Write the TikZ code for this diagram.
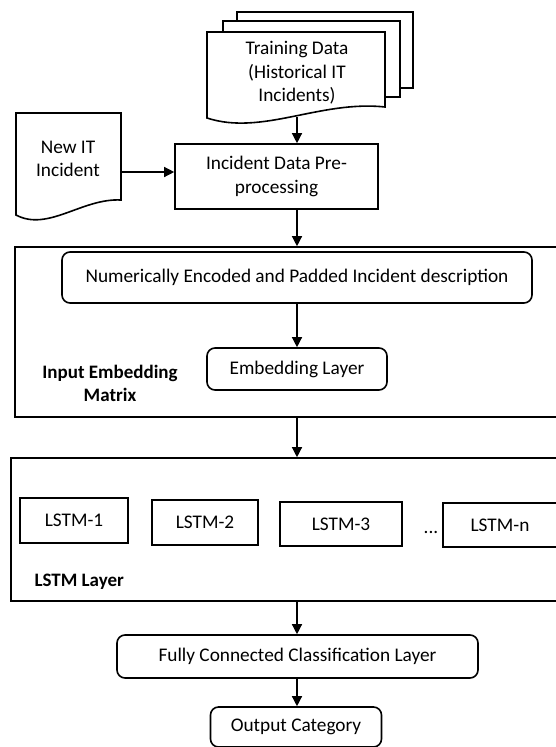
\documentclass[tikz,border=0pt]{standalone}
\usepackage{fontspec}
\setmainfont{Carlito}
\usetikzlibrary{arrows.meta}
\tikzset{
  ln/.style={line width=1.6pt, draw=black},
  arr/.style={line width=1.3pt, -{Triangle[length=10pt,width=10pt]}},
  sq/.style={ln, rectangle, inner sep=0pt, fill=white},
  rbox/.style={ln, rectangle, rounded corners=8pt, inner sep=0pt, fill=white},
  txt/.style={font=\fontsize{19.3}{23.5}\selectfont, align=center},
  bold/.style={font=\fontsize{19}{23}\selectfont\bfseries, align=center}
}
\begin{document}
\begin{tikzpicture}[x=1pt,y=-1pt]
\clip (0,0) rectangle (556,747);
\fill[white] (0,0) rectangle (556,747);
% stacked training documents
\draw[ln, fill=white] (237,12) rectangle (413,88);
\draw[ln, fill=white] (223,21) rectangle (400,97);
\draw[ln, fill=white] (207,32) -- (385,32) -- (385,107)
   .. controls (320,100) and (262,136) .. (207,118) -- cycle;
\node[txt] (train) at (297,73) {Training Data\\(Historical IT\\Incidents)};
\coordinate (trainbot) at (297,117);
% new incident document
\draw[ln, fill=white] (16,113) -- (121,113) -- (121,200)
   .. controls (82,198) and (48,232) .. (16,215) -- cycle;
\node[txt] (newinc) at (68,159) {New IT\\Incident};
\coordinate (newright) at (121,172);
% preprocessing
\node[sq, minimum width=203pt, minimum height=65pt] (pre) at (276.5,176.5) {};
\node[txt] (pretext) at (pre) {Incident Data Pre-\\processing};
% input embedding block
\node[sq, minimum width=585pt, minimum height=170pt] (box1) at (307.5,332) {};
\node[rbox, minimum width=470pt, minimum height=51pt, txt] (num) at (297,277.5) {Numerically Encoded and Padded Incident description};
\node[rbox, minimum width=180pt, minimum height=42pt, txt] (emb) at (297,369) {Embedding Layer};
\node[bold] (iem) at (110,383) {Input Embedding\\Matrix};
% LSTM block
\node[sq, minimum width=589pt, minimum height=143pt] (box2) at (305.5,529.5) {};
\node[sq, minimum width=108pt, minimum height=45pt, txt] (l1) at (74,520.5) {LSTM-1};
\node[sq, minimum width=106pt, minimum height=45pt, txt] (l2) at (205,522.5) {LSTM-2};
\node[sq, minimum width=122pt, minimum height=44pt, txt] (l3) at (341,524) {LSTM-3};
\node[sq, minimum width=157pt, minimum height=44pt] (lnbox) at (521.5,525) {};
\node[txt] (lntext) at (500,525) {LSTM-n};
\node[txt] (dots) at (431,532) {...};
\node[bold, anchor=west] (ll) at (31,582) {LSTM Layer};
% output part
\node[rbox, minimum width=361pt, minimum height=43pt, txt] (fc) at (297.5,656.5) {Fully Connected Classification Layer};
\node[rbox, minimum width=171pt, minimum height=40pt, txt] (out) at (296,727) {Output Category};
% connectors
\draw[arr] (trainbot) -- (trainbot |- pre.north);
\draw[arr] (newright) -- (newright -| pre.west);
\draw[arr] (pre.south -| trainbot) -- (box1.north -| trainbot);
\draw[arr] (num) -- (emb);
\draw[arr] (box1.south -| num) -- (box2.north -| num);
\draw[arr] (box2.south -| num) -- (fc.north -| num);
\draw[arr] (fc.south -| num) -- (out.north -| num);
\end{tikzpicture}
\end{document}
